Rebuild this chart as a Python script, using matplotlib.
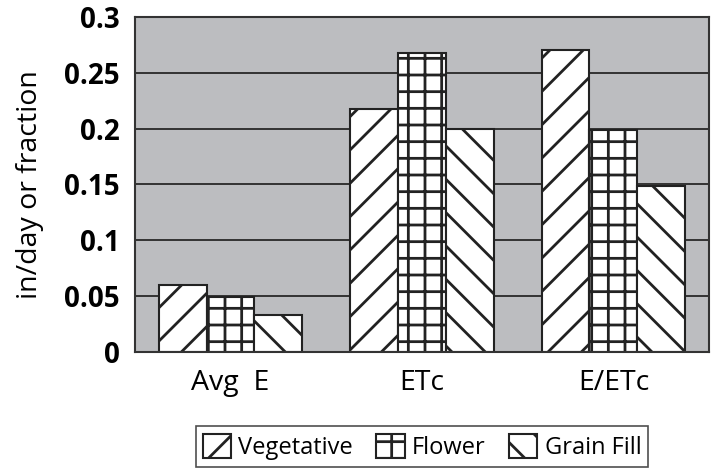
import numpy as np
import matplotlib.pyplot as plt

plt.rcParams['font.family'] = ['Open Sans', 'DejaVu Sans']
plt.rcParams['hatch.linewidth'] = 2.0

# data
categories = ['Avg  E', 'ETc', 'E/ETc']
stages = ['Vegetative', 'Flower', 'Grain Fill']
vegetative = [0.060, 0.218, 0.270]
flower = [0.049, 0.268, 0.199]
grain_fill = [0.033, 0.200, 0.149]
yticks = [0, 0.05, 0.1, 0.15, 0.2, 0.25, 0.3]
ytick_labels = ['0', '0.05', '0.1', '0.15', '0.2', '0.25', '0.3']

series = [vegetative, flower, grain_fill]
hatches = ['/', '+', '\\']

fig, ax = plt.subplots(figsize=(7.17, 4.70), dpi=100)
plt.subplots_adjust(left=0.188, right=0.989, top=0.964, bottom=0.251)

ax.set_facecolor('#bcbdc0')
ax.set_axisbelow(True)
ax.yaxis.grid(True, color='#333333', linewidth=1.4)

x = np.arange(len(categories))
w = 0.25
for i in range(len(series)):
    ax.bar(x + (i - 1) * w, series[i], w, color='white', edgecolor='#222222',
           linewidth=1.5, hatch=hatches[i], label=stages[i])

ax.set_xlim(-0.5, 2.5)
ax.set_ylim(0, 0.3)
ax.set_yticks(yticks)
ax.set_yticklabels(ytick_labels, fontsize=20, fontweight='bold')
ax.set_xticks(x)
ax.set_xticklabels(categories, fontsize=20.5)
ax.tick_params(axis='y', length=0, pad=11)
ax.tick_params(axis='x', length=0, pad=12)
ax.set_ylabel('in/day or fraction', fontsize=20.5, labelpad=14)

for s in ax.spines.values():
    s.set_color('#333333')
    s.set_linewidth(1.5)

leg = ax.legend(loc='upper center', bbox_to_anchor=(0.5, -0.222), ncol=3,
                fontsize=17, frameon=True, fancybox=False, handlelength=1.2,
                handleheight=1.2, handletextpad=0.3, columnspacing=1.0,
                borderpad=0.3, borderaxespad=0)
leg.get_frame().set_edgecolor('#222222')
leg.get_frame().set_linewidth(1.2)

plt.savefig('out.png')
